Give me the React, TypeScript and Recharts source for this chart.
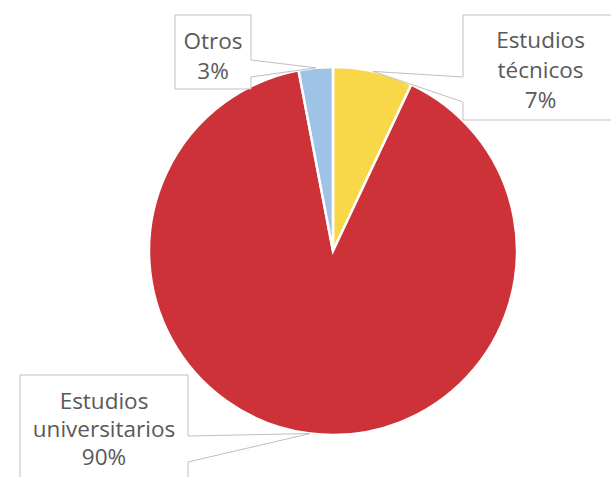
import { PieChart, Pie, Cell } from "recharts";

document.body.style.margin = "0";

const categories = ["Estudios técnicos", "Estudios universitarios", "Otros"];
const shares = [7, 90, 3];
const sliceColors = ["#F8D849", "#CC3237", "#9FC3E7"];

// callout boxes (Excel-style data callouts)
const callouts = [
  { x: 463, y: 15, w: 155, h: 105, side: "left", wy1: 77, wy2: 102, ty: 48, lh: 30 },
  { x: 20, y: 375, w: 168, h: 120, side: "right", wy1: 436, wy2: 462, ty: 409, lh: 28 },
  { x: 175, y: 15, w: 76, h: 74, side: "right", wy1: 60, wy2: 77, ty: 49, lh: 30 },
];

const data = categories.map((name, i) => ({ name, value: shares[i] }));
const RAD = Math.PI / 180;

function renderCallout(props: any) {
  const { cx, cy, midAngle, outerRadius, index, name, percent } = props;
  const c = callouts[index];
  const tx = cx + outerRadius * Math.cos(-midAngle * RAD);
  const ty = cy + outerRadius * Math.sin(-midAngle * RAD);
  const l = c.x;
  const r = c.x + c.w;
  const t = c.y;
  const b = c.y + c.h;
  const d =
    c.side === "right"
      ? `M${l},${t} H${r} V${c.wy1} L${tx},${ty} L${r},${c.wy2} V${b} H${l} Z`
      : `M${l},${t} H${r} V${b} H${l} V${c.wy2} L${tx},${ty} L${l},${c.wy1} Z`;
  const lines = [...String(name).split(" "), `${Math.round(percent * 100)}%`];
  return (
    <g key={`callout-${index}`}>
      <path d={d} fill="#fff" stroke="#BFBFBF" strokeWidth={1} />
      {lines.map((ln, k) => (
        <text
          key={k}
          x={c.x + c.w / 2}
          y={c.ty + k * c.lh}
          textAnchor="middle"
          fontFamily="'Open Sans', sans-serif"
          fontSize={22.5}
          fill="#595959"
        >
          {ln}
        </text>
      ))}
    </g>
  );
}

export default function App() {
  return (
    <div style={{ width: 611, height: 477, background: "#fff", overflow: "hidden" }}>
      <PieChart width={611} height={477} margin={{ top: 0, right: 0, bottom: 0, left: 0 }}>
        <Pie
          data={data}
          dataKey="value"
          nameKey="name"
          cx={333}
          cy={251}
          outerRadius={184}
          startAngle={90}
          endAngle={-270}
          stroke="#fff"
          strokeWidth={2.5}
          label={renderCallout}
          labelLine={false}
          isAnimationActive={false}
        >
          {data.map((d, i) => (
            <Cell key={d.name} fill={sliceColors[i]} />
          ))}
        </Pie>
      </PieChart>
    </div>
  );
}
